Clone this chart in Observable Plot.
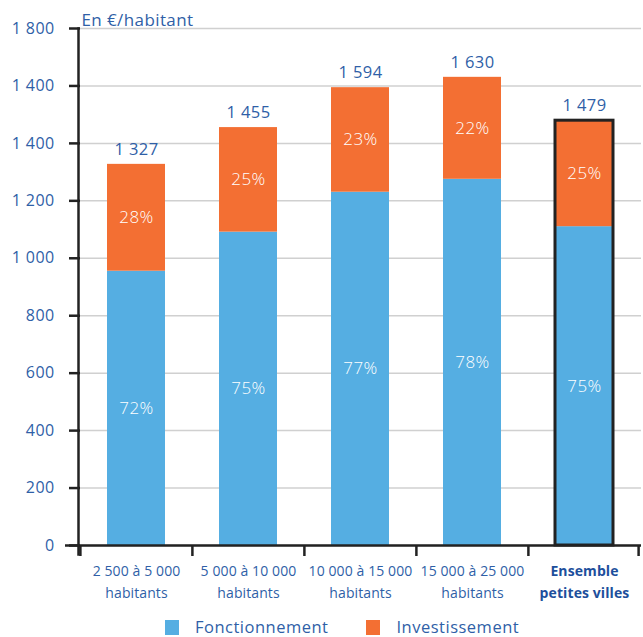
<!DOCTYPE html>
<html>
<head>
<meta charset="utf-8">
<script src="https://cdn.jsdelivr.net/npm/d3@7"></script>
<script src="https://cdn.jsdelivr.net/npm/@observablehq/plot@0.6"></script>
<style>
  body { margin: 0; background: #fff; font-family: "Open Sans", sans-serif; }
  #legend { display: flex; align-items: center; margin-left: 165px; margin-top: 8px; height: 18px; line-height: 18px; color: #2f5fa7; font-size: 16.5px; letter-spacing: 0.5px; }
  .sw { width: 14px; height: 15px; display: inline-block; margin-right: 16px; }
  .item { display: flex; align-items: center; margin-right: 38px; }
  .xlab { letter-spacing: 0.1px; }
</style>
</head>
<body>
<div id="chart"></div>
<div id="legend"></div>
<script>
const categories = ["c1", "c2", "c3", "c4", "c5"];
const labelLine1 = ["2 500 à 5 000", "5 000 à 10 000", "10 000 à 15 000", "15 000 à 25 000", "Ensemble"];
const labelLine2 = ["habitants", "habitants", "habitants", "habitants", "petites villes"];
const series = ["Fonctionnement", "Investissement"];
const colors = ["#55aee2", "#f36f33"];
const fonctionnement = [955, 1091, 1230, 1275, 1110];
const investissement = [372, 364, 364, 355, 369];
const totals = [1327, 1455, 1594, 1630, 1479];
const totalLabels = ["1 327", "1 455", "1 594", "1 630", "1 479"];
const pctFonct = ["72%", "75%", "77%", "78%", "75%"];
const pctInv = ["28%", "25%", "23%", "22%", "25%"];
const yTicks = [0, 200, 400, 600, 800, 1000, 1200, 1400, 1600, 1800];
const yTickLabels = ["0", "200", "400", "600", "800", "1 000", "1 200", "1 400", "1 400", "1 800"];
const yTitle = "En €/habitant";

const rows = [];
categories.forEach((c, i) => {
  rows.push({cat: c, serie: series[0], value: fonctionnement[i], pct: pctFonct[i]});
  rows.push({cat: c, serie: series[1], value: investissement[i], pct: pctInv[i]});
});
const totalRows = categories.map((c, i) => ({cat: c, total: totals[i], label: totalLabels[i], l1: labelLine1[i], l2: labelLine2[i]}));

const W = 643, H = 610, mL = 80, mR = 2, mT = 28, mB = 65;
const step = (W - mL - mR) / categories.length;
const textColor = "#2f5fa7";
const font = "Open Sans";

const chart = Plot.plot({
  width: W, height: H,
  marginLeft: mL, marginRight: mR, marginTop: mT, marginBottom: mB,
  style: {fontFamily: font, background: "#fff", letterSpacing: "0.4px"},
  x: {domain: categories, paddingInner: 0.48, paddingOuter: 0.24, axis: null},
  y: {domain: [0, 1800], axis: null},
  color: {domain: series, range: colors},
  marks: [
    Plot.gridY(yTicks, {stroke: "#d0d0d0", strokeOpacity: 1, strokeWidth: 1.5}),
    Plot.barY(rows, Plot.stackY({x: "cat", y: "value", fill: "serie", z: "serie", order: series})),
    Plot.barY(totalRows.filter(d => d.cat === "c5"), {x: "cat", y: "total", fill: "none", stroke: "#222", strokeWidth: 3}),
    Plot.text(rows, Plot.stackY({x: "cat", y: "value", z: "serie", order: series, text: "pct", fill: "white", fontSize: 17, fontWeight: 300})),
    Plot.text(totalRows, {x: "cat", y: "total", text: "label", dy: -15, fill: textColor, fontSize: 16.5}),
    Plot.axisY(yTicks, {tickSize: 11, tickPadding: 15, stroke: "#222", strokeWidth: 2.5, tickFormat: (d) => yTickLabels[yTicks.indexOf(d)], fill: textColor, fontSize: 16, color: textColor}),
    Plot.frame({anchor: "left", stroke: "#222", strokeWidth: 2.5, insetBottom: -9, dx: -2}),
    Plot.ruleY([0], {stroke: "#222", strokeWidth: 2.5, insetLeft: -15}),
    Plot.ruleX(categories, {x: d => d, y1: 0, y2: 0, dx: -step / 2, insetBottom: -11, stroke: "#222", strokeWidth: 2.5}),
    Plot.ruleX(categories.slice(-1), {x: d => d, y1: 0, y2: 0, dx: step / 2 - 2, insetBottom: -11, stroke: "#222", strokeWidth: 2.5}),
    Plot.text(totalRows.slice(0, 4), {x: "cat", frameAnchor: "bottom", text: d => d.l1 + "\n" + d.l2, lineAnchor: "top", dy: 15, lineHeight: 1.55, fill: textColor, fontSize: 14, className: "xlab"}),
    Plot.text(totalRows.slice(4), {x: "cat", frameAnchor: "bottom", text: d => d.l1 + "\n" + d.l2, lineAnchor: "top", dy: 15, lineHeight: 1.55, fill: "#1d4f9c", fontSize: 14, fontWeight: "bold", className: "xlab"}),
    Plot.text([yTitle], {frameAnchor: "top-left", text: d => d, dy: -15, dx: 1, fill: textColor, fontSize: 17, textAnchor: "start"})
  ]
});
document.getElementById("chart").appendChild(chart);

const legend = document.getElementById("legend");
series.forEach((s, i) => {
  const item = document.createElement("div");
  item.className = "item";
  const sw = document.createElement("span");
  sw.className = "sw";
  sw.style.background = colors[i];
  item.appendChild(sw);
  item.appendChild(document.createTextNode(s));
  legend.appendChild(item);
});
</script>
</body>
</html>
